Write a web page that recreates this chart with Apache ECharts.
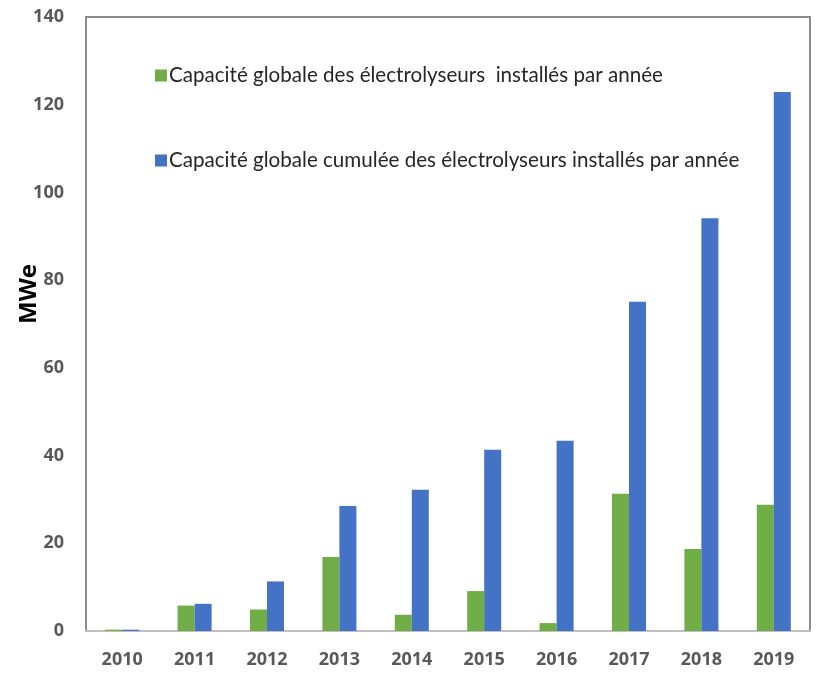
<!DOCTYPE html>
<html>
<head>
<meta charset="utf-8">
<script src="https://cdn.jsdelivr.net/npm/echarts@6/dist/echarts.min.js"></script>
<style>html,body{margin:0;padding:0;background:#fff}#c{width:820px;height:673px}</style>
</head>
<body>
<div id="c"></div>
<script>
const years = ['2010','2011','2012','2013','2014','2015','2016','2017','2018','2019'];
const annual = [0.3, 5.8, 4.9, 16.9, 3.7, 9.1, 1.8, 31.3, 18.7, 28.8];
const cumulative = [0.3, 6.2, 11.3, 28.5, 32.2, 41.3, 43.4, 75.1, 94.1, 122.9];
const seriesNames = ['Capacité globale des électrolyseurs  installés par année', 'Capacité globale cumulée des électrolyseurs installés par année'];
const yTicks = {min: 0, max: 140, interval: 20};

const chart = echarts.init(document.getElementById('c'));
chart.setOption({
  animation: false,
  grid: {left: 86, right: 10, top: 17, bottom: 42, show: true, borderColor: '#8a8a8a', borderWidth: 2, containLabel: false, outerBoundsMode: 'none'},
  legend: {
    orient: 'vertical', left: 150, top: 60, itemGap: 64,
    itemWidth: 12, itemHeight: 12, icon: 'rect',
    textStyle: {fontFamily: 'Lato', fontSize: 20.6, color: '#262626', padding: [0,0,0,-3]},
    data: seriesNames
  },
  xAxis: {
    type: 'category', data: years,
    axisLine: {lineStyle: {color: '#bfbfbf', width: 2}},
    axisTick: {show: false},
    axisLabel: {fontFamily: 'Open Sans', fontWeight: 'bold', fontSize: 18, color: '#595959', margin: 20}
  },
  yAxis: {
    type: 'value', min: yTicks.min, max: yTicks.max, interval: yTicks.interval,
    name: 'MWe', nameLocation: 'middle', nameGap: 45, nameRotate: 90, nameMoveOverlap: false,
    nameTextStyle: {fontFamily: 'Open Sans', fontWeight: 'bold', fontSize: 24, color: '#000', align: 'left'},
    axisLine: {show: false}, axisTick: {show: false}, splitLine: {show: false},
    axisLabel: {fontFamily: 'Open Sans', fontWeight: 'bold', fontSize: 18, color: '#595959', margin: 22}
  },
  series: [
    {name: seriesNames[0], type: 'bar', data: annual, barWidth: 17, barGap: '0%', itemStyle: {color: '#70AD47'}},
    {name: seriesNames[1], type: 'bar', data: cumulative, barWidth: 17, itemStyle: {color: '#4472C4'}}
  ]
});
</script>
</body>
</html>
